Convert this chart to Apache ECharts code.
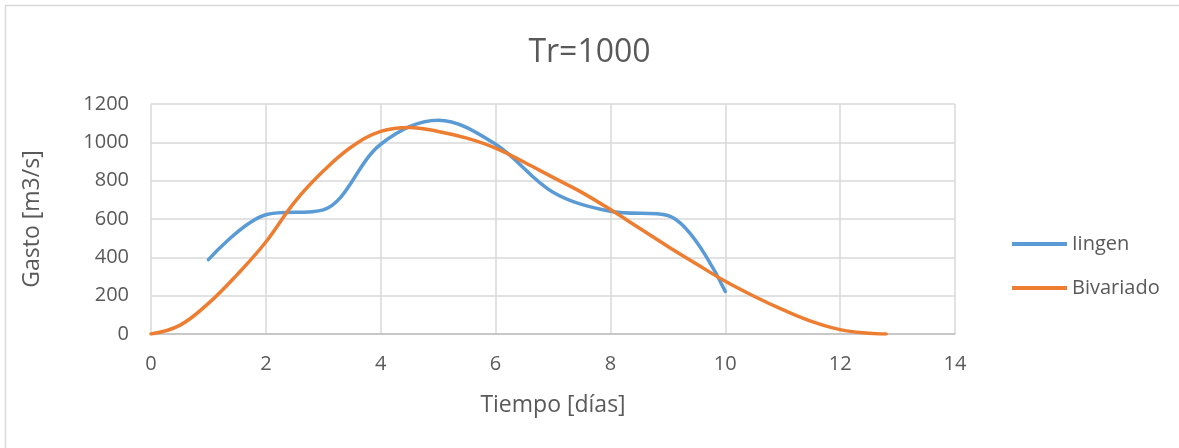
<!DOCTYPE html>
<html>
<head>
<meta charset="utf-8">
<script src="https://cdn.jsdelivr.net/npm/echarts@6/dist/echarts.min.js"></script>
<style>
html,body{margin:0;padding:0;background:#fff;}
#chart{width:1179px;height:448px;}
</style>
</head>
<body>
<div id="chart"></div>
<script>
const titleText = 'Tr=1000';
const seriesNames = ['Iingen', 'Bivariado'];
const iingenDays = [1, 2, 3, 4, 5, 6, 7, 8, 9, 10];
const iingenValues = [388, 622, 648, 990, 1115, 990, 740, 640, 618, 222];
const bivDays = [0, 0.5, 1, 1.5, 2, 2.5, 3, 3.5, 4, 4.5, 5, 5.5, 6, 6.5, 7, 7.5, 8, 8.5, 9, 9.5, 10, 10.5, 11, 11.5, 12, 12.5, 12.8];
const bivValues = [0, 45, 160, 310, 480, 688, 850, 978, 1057, 1078, 1057, 1022, 970, 896, 817, 739, 649, 553, 457, 365, 275, 197, 127, 66, 23, 4, 0];
const xTicks = [0, 14, 2];   // min, max, interval
const yTicks = [0, 1200, 200];

const textColor = '#595959';
const font = '"Open Sans", "Noto Sans", sans-serif';

const chart = echarts.init(document.getElementById('chart'), null, {renderer: 'canvas'});
chart.setOption({
  backgroundColor: '#fff',
  animation: false,
  graphic: [{
    type: 'rect',
    shape: {x: 5.5, y: 5.5, width: 1200, height: 500},
    style: {fill: 'none', stroke: '#d9d9d9', lineWidth: 1.5},
    silent: true
  }],
  title: {
    text: titleText,
    left: 'center',
    top: 32,
    textStyle: {color: textColor, fontFamily: font, fontSize: 32, fontWeight: 'normal'}
  },
  legend: {
    orient: 'vertical',
    left: 1007,
    top: 229,
    itemWidth: 55,
    itemHeight: 4,
    itemGap: 24,
    icon: 'rect',
    data: seriesNames,
    textStyle: {color: textColor, fontFamily: font, fontSize: 20}
  },
  grid: {left: 151, right: 224, top: 104, bottom: 114, containLabel: false},
  xAxis: {
    type: 'value',
    min: xTicks[0], max: xTicks[1], interval: xTicks[2],
    name: 'Tiempo [días]',
    nameLocation: 'middle',
    nameGap: 60,
    nameTextStyle: {color: textColor, fontFamily: font, fontSize: 23},
    axisLine: {show: true, lineStyle: {color: '#bfbfbf', width: 1.5}},
    axisTick: {show: false},
    axisLabel: {color: textColor, fontFamily: font, fontSize: 20, margin: 20},
    splitLine: {show: true, lineStyle: {color: '#d9d9d9', width: 1.5}}
  },
  yAxis: {
    type: 'value',
    min: yTicks[0], max: yTicks[1], interval: yTicks[2],
    name: 'Gasto [m3/s]',
    nameLocation: 'middle',
    nameGap: 107,
    nameTextStyle: {color: textColor, fontFamily: font, fontSize: 23},
    axisLine: {show: false},
    axisTick: {show: false},
    axisLabel: {color: textColor, fontFamily: font, fontSize: 20, margin: 22, formatter: v => String(v)},
    splitLine: {show: true, lineStyle: {color: '#d9d9d9', width: 1.5}}
  },
  series: [
    {
      name: seriesNames[0],
      type: 'line',
      data: iingenDays.map((d, i) => [d, iingenValues[i]]),
      smooth: 0.35,
      symbol: 'none',
      lineStyle: {color: '#5b9bd5', width: 3.5, cap: 'round'},
      itemStyle: {color: '#5b9bd5'},
      z: 3
    },
    {
      name: seriesNames[1],
      type: 'line',
      data: bivDays.map((d, i) => [d, bivValues[i]]),
      smooth: 0.4,
      symbol: 'none',
      lineStyle: {color: '#ed7d31', width: 3.5, cap: 'round'},
      itemStyle: {color: '#ed7d31'},
      z: 4
    }
  ]
});
</script>
</body>
</html>
